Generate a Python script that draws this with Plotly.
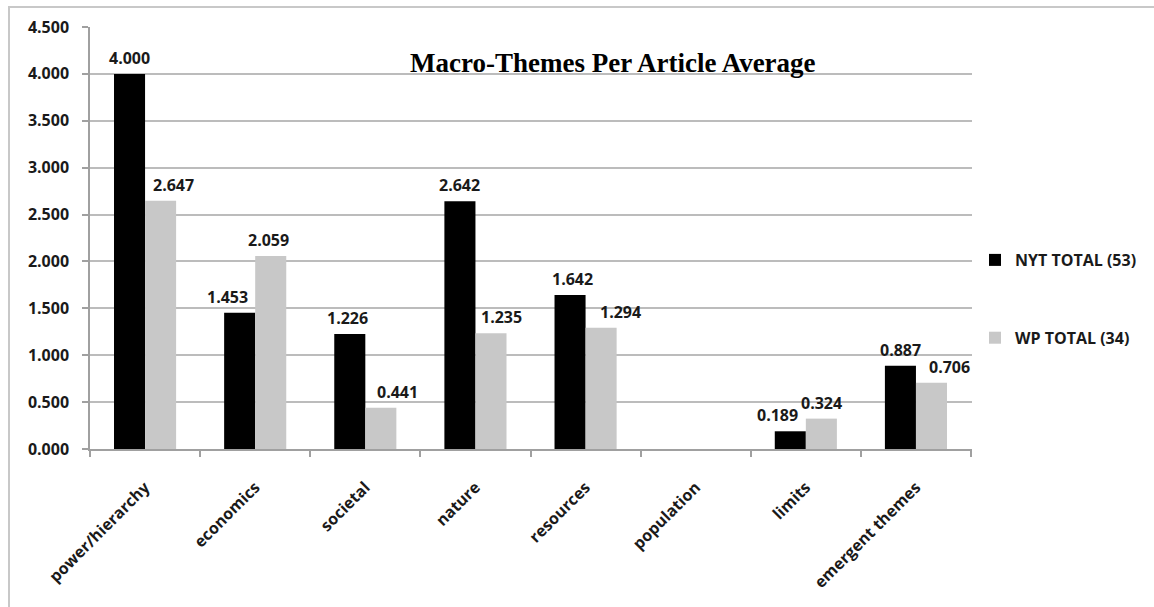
import plotly.graph_objects as go

# Macro-theme categories and per-article averages for each newspaper
categories = ["power/hierarchy", "economics", "societal", "nature",
              "resources", "population", "limits", "emergent themes"]
nyt_values = [4.000, 1.453, 1.226, 2.642, 1.642, None, 0.189, 0.887]
wp_values = [2.647, 2.059, 0.441, 1.235, 1.294, None, 0.324, 0.706]
series_names = ["NYT TOTAL (53)", "WP TOTAL (34)"]
y_ticks = [0.0, 0.5, 1.0, 1.5, 2.0, 2.5, 3.0, 3.5, 4.0, 4.5]

# horizontal nudges (px) that keep value labels clear of neighbouring bars
nyt_label_nudge = [0, -12, -2, 0, 2, 0, -13, 0]
wp_label_nudge = [13, -2, 17, 11, 19, 0, 0, 18]

W, H = 1154, 607
L, R, T, B = 90, 182, 27, 158
PW, PH = W - L - R, H - T - B
BARGAP = 0.436
HALF_BAR = PW / len(categories) * (1 - BARGAP) / 4  # half of one bar, px


def px_x(px):
    return (px - L) / PW


def px_y(py):
    return (H - B - py) / PH


bold_font = dict(family="Open Sans", size=16, color="#1a1a1a", weight="bold")

fig = go.Figure()
for name, vals, color, grp in [(series_names[0], nyt_values, "#000000", "a"),
                               (series_names[1], wp_values, "#c8c8c8", "b")]:
    fig.add_trace(go.Bar(
        name=name, x=categories, y=vals, marker_color=color,
        marker_line_width=0, legendgroup=grp,
    ))

# value labels above each bar
value_labels = []
for vals, side, nudges in [(nyt_values, -1, nyt_label_nudge),
                           (wp_values, 1, wp_label_nudge)]:
    for cat, v, n in zip(categories, vals, nudges):
        if v is None:
            continue
        value_labels.append(dict(
            x=cat, y=v, xref="x", yref="y", text=f"{v:.3f}",
            showarrow=False, xanchor="center", yanchor="bottom",
            xshift=side * HALF_BAR + n, yshift=3, font=bold_font,
        ))

title = dict(text="<b>Macro-Themes Per Article Average</b>",
             xref="paper", yref="paper", x=px_x(613), y=px_y(63),
             xanchor="center", yanchor="middle", showarrow=False,
             font=dict(family="Liberation Serif", size=27, color="#000000"))

fig.update_layout(
    width=W, height=H,
    margin=dict(l=L, r=R, t=T, b=B, pad=0),
    paper_bgcolor="white", plot_bgcolor="white",
    barmode="group", bargap=BARGAP, bargroupgap=0,
    font=bold_font,
    showlegend=True,
    legend=dict(x=px_x(975), y=px_y(243), xanchor="left", yanchor="top",
                font=bold_font, tracegroupgap=54, itemwidth=30,
                bgcolor="rgba(0,0,0,0)"),
    xaxis=dict(showline=True, linecolor="#a0a0a0", linewidth=1.5,
               ticks="outside", ticklen=6, tickcolor="#a0a0a0", tickwidth=1.5,
               tickson="boundaries", tickangle=-45, tickfont=bold_font,
               ticklabelstandoff=21, showgrid=False),
    yaxis=dict(range=[0, 4.5], tickvals=y_ticks, tickformat=".3f",
               showline=True, linecolor="#a0a0a0", linewidth=1.5,
               ticks="outside", ticklen=6, tickcolor="#a0a0a0", tickwidth=1.5,
               showgrid=True, gridcolor="#bcbcbc", gridwidth=1.5,
               zeroline=False, tickfont=bold_font, ticklabelstandoff=10),
    shapes=[dict(type="rect", xref="paper", yref="paper",
                 x0=px_x(9), x1=px_x(1170), y0=px_y(7), y1=px_y(620),
                 line=dict(color="#c8c8c8", width=2), layer="below")],
    annotations=value_labels + [title],
)

fig.write_html("out.html")
